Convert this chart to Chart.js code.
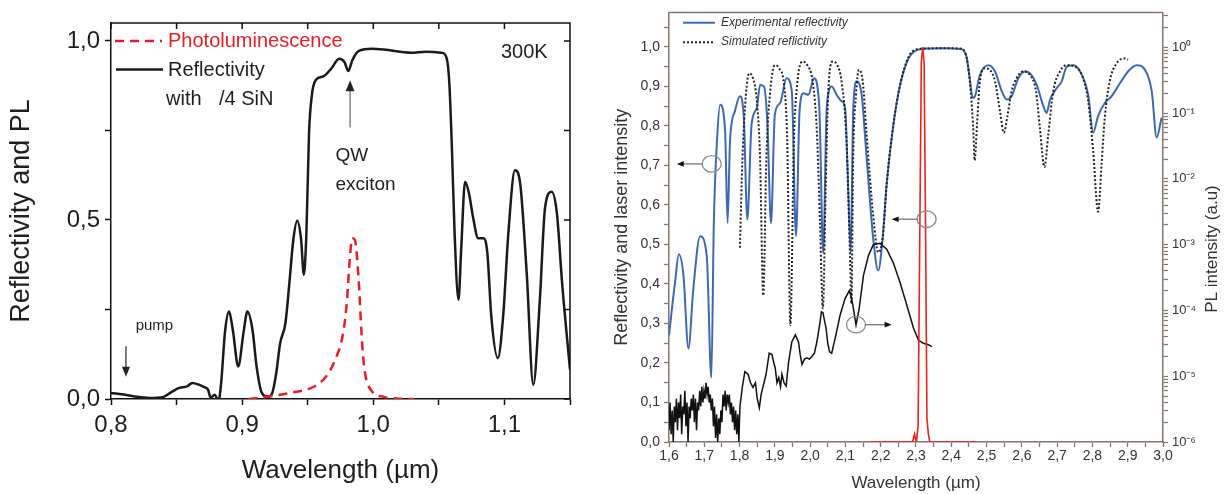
<!DOCTYPE html>
<html>
<head>
<meta charset="utf-8">
<script src="https://cdn.jsdelivr.net/npm/chart.js@4.4.0/dist/chart.umd.min.js"></script>
<style>
  html, body { margin: 0; padding: 0; background: #fff; }
  #wrap { position: relative; width: 1224px; height: 494px; }
  #leftBox { position: absolute; left: 0; top: 0; }
  #rightBox { position: absolute; left: 600px; top: 0; }
</style>
</head>
<body>
<div id="wrap">
  <div id="leftBox"><canvas id="leftChart" width="600" height="494"></canvas></div>
  <div id="rightBox"><canvas id="rightChart" width="624" height="494"></canvas></div>
</div>
<script>
// ---- left panel: reflectivity with λ/4 SiN and photoluminescence, 300K ----
const reflWl = [0.800, 0.811, 0.820, 0.829, 0.840, 0.846, 0.852, 0.858, 0.862, 0.867,
                0.871, 0.874, 0.876, 0.879, 0.882, 0.884, 0.887, 0.890, 0.893, 0.897,
                0.901, 0.904, 0.908, 0.911, 0.915, 0.920, 0.923, 0.926, 0.929, 0.933,
                0.936, 0.939, 0.942, 0.945, 0.947, 0.949, 0.951, 0.953, 0.956, 0.962,
                0.968, 0.974, 0.978, 0.981, 0.984, 0.989, 0.999, 1.008, 1.029, 1.040,
                1.052, 1.056, 1.058, 1.060, 1.062, 1.065, 1.067, 1.070, 1.073, 1.076,
                1.080, 1.084, 1.087, 1.090, 1.095, 1.099, 1.103, 1.108, 1.112, 1.117,
                1.122, 1.127, 1.131, 1.136, 1.140, 1.144, 1.150];
const reflVal = [0.017, 0.012, 0.006, 0.003, 0.006, 0.019, 0.031, 0.035, 0.045, 0.040,
                 0.033, 0.026, 0.003, 0.012, -0.005, 0.045, 0.190, 0.244, 0.190, 0.091,
                 0.184, 0.244, 0.190, 0.091, 0.017, 0.006, 0.017, 0.072, 0.156, 0.212,
                 0.323, 0.444, 0.498, 0.444, 0.347, 0.463, 0.742, 0.844, 0.890, 0.901,
                 0.923, 0.950, 0.941, 0.916, 0.946, 0.972, 0.978, 0.976, 0.967, 0.970,
                 0.967, 0.951, 0.881, 0.695, 0.463, 0.277, 0.416, 0.607, 0.574, 0.509,
                 0.449, 0.449, 0.407, 0.230, 0.114, 0.230, 0.463, 0.639, 0.602, 0.351,
                 0.040, 0.277, 0.535, 0.579, 0.519, 0.323, 0.082];
const plWl = [0.905, 0.920, 0.937, 0.955, 0.964, 0.971, 0.977, 0.980, 0.982, 0.984,
              0.986, 0.989, 0.991, 0.993, 0.998, 1.008, 1.020, 1.031];
const plVal = [0.000, 0.007, 0.017, 0.035, 0.063, 0.110, 0.184, 0.277, 0.388, 0.449,
               0.444, 0.323, 0.184, 0.091, 0.026, 0.006, 0.001, 0.000];
const leftXLabelled = [0.8, 0.9, 1.0, 1.1];
const leftYLabelled = [0.0, 0.5, 1.0];

// ---- right panel: experimental / simulated reflectivity, laser line, PL ----
const expWl = [1.600, 1.617, 1.628, 1.641, 1.655, 1.669, 1.688, 1.707, 1.720, 1.727,
               1.736, 1.745, 1.759, 1.766, 1.773, 1.787, 1.801, 1.812, 1.822, 1.834,
               1.849, 1.858, 1.869, 1.879, 1.889, 1.900, 1.915, 1.933, 1.948, 1.960,
               1.970, 1.981, 1.995, 2.011, 2.026, 2.037, 2.047, 2.061, 2.075, 2.089,
               2.099, 2.108, 2.115, 2.122, 2.132, 2.146, 2.160, 2.179, 2.193, 2.206,
               2.217, 2.236, 2.255, 2.279, 2.302, 2.330, 2.380, 2.425, 2.442, 2.451,
               2.461, 2.467, 2.481, 2.505, 2.524, 2.543, 2.557, 2.571, 2.590, 2.609,
               2.623, 2.642, 2.661, 2.670, 2.680, 2.699, 2.713, 2.727, 2.746, 2.765,
               2.788, 2.802, 2.816, 2.835, 2.854, 2.878, 2.901, 2.925, 2.949, 2.968,
               2.982, 2.996];
const expVal = [0.270, 0.404, 0.475, 0.421, 0.237, 0.388, 0.521, 0.471, 0.163, 0.554,
                0.763, 0.854, 0.788, 0.554, 0.763, 0.838, 0.875, 0.821, 0.563, 0.804,
                0.846, 0.904, 0.900, 0.804, 0.554, 0.829, 0.858, 0.921, 0.888, 0.521,
                0.838, 0.883, 0.879, 0.921, 0.846, 0.479, 0.846, 0.900, 0.879, 0.863,
                0.846, 0.638, 0.479, 0.838, 0.913, 0.879, 0.721, 0.513, 0.434, 0.521,
                0.654, 0.804, 0.904, 0.971, 0.992, 0.996, 0.997, 0.995, 0.979, 0.929,
                0.871, 0.875, 0.929, 0.954, 0.938, 0.888, 0.867, 0.875, 0.921, 0.938,
                0.933, 0.904, 0.850, 0.833, 0.867, 0.896, 0.913, 0.950, 0.954, 0.938,
                0.879, 0.783, 0.825, 0.858, 0.875, 0.908, 0.938, 0.954, 0.942, 0.888,
                0.771, 0.821];
const simWl = [1.801, 1.808, 1.818, 1.827, 1.838, 1.849, 1.858, 1.867, 1.876, 1.886,
               1.900, 1.912, 1.926, 1.935, 1.944, 1.954, 1.963, 1.978, 1.992, 2.007,
               2.019, 2.028, 2.036, 2.044, 2.051, 2.064, 2.077, 2.089, 2.103, 2.113,
               2.117, 2.122, 2.130, 2.138, 2.149, 2.160, 2.179, 2.193, 2.206, 2.217,
               2.236, 2.255, 2.279, 2.302, 2.330, 2.380, 2.425, 2.444, 2.455, 2.463,
               2.466, 2.473, 2.481, 2.495, 2.509, 2.524, 2.538, 2.549, 2.559, 2.571,
               2.585, 2.604, 2.623, 2.640, 2.651, 2.664, 2.675, 2.689, 2.708, 2.727,
               2.751, 2.770, 2.788, 2.802, 2.816, 2.826, 2.835, 2.849, 2.868, 2.892,
               2.901];
const simVal = [0.492, 0.713, 0.879, 0.933, 0.921, 0.863, 0.721, 0.371, 0.721, 0.879,
                0.954, 0.946, 0.904, 0.763, 0.296, 0.763, 0.904, 0.963, 0.954, 0.913,
                0.788, 0.554, 0.338, 0.638, 0.879, 0.963, 0.954, 0.913, 0.763, 0.471,
                0.350, 0.721, 0.879, 0.942, 0.913, 0.779, 0.571, 0.480, 0.521, 0.654,
                0.804, 0.904, 0.975, 0.994, 0.996, 0.997, 0.996, 0.971, 0.888, 0.779,
                0.713, 0.804, 0.913, 0.946, 0.942, 0.913, 0.838, 0.783, 0.825, 0.888,
                0.921, 0.938, 0.929, 0.888, 0.796, 0.696, 0.779, 0.888, 0.938, 0.954,
                0.950, 0.929, 0.863, 0.738, 0.583, 0.704, 0.821, 0.913, 0.958, 0.971,
                0.968];
const laserWl = [2.170, 2.290, 2.296, 2.301, 2.306, 2.311, 2.315, 2.319, 2.323, 2.327,
                 2.331, 2.335, 2.339, 2.470];
const laserVal = [0.000, 0.000, 0.020, 0.000, 0.040, 0.550, 0.960, 1.000, 0.960, 0.550,
                  0.060, 0.020, 0.000, 0.000];
// PL intensity, read as decades (log10 of a.u.) on the right-hand axis
const pumpWl = [1.600, 1.603, 1.606, 1.609, 1.612, 1.615, 1.618, 1.621, 1.624, 1.627,
                1.630, 1.633, 1.636, 1.639, 1.642, 1.645, 1.648, 1.651, 1.654, 1.657,
                1.660, 1.663, 1.666, 1.669, 1.672, 1.675, 1.678, 1.681, 1.684, 1.687,
                1.690, 1.693, 1.696, 1.699, 1.702, 1.705, 1.708, 1.711, 1.714, 1.717,
                1.720, 1.723, 1.726, 1.729, 1.732, 1.735, 1.738, 1.741, 1.744, 1.747,
                1.750, 1.753, 1.756, 1.759, 1.762, 1.765, 1.768, 1.771, 1.774, 1.777,
                1.780, 1.783, 1.786, 1.789, 1.792, 1.795, 1.798, 1.801, 1.808, 1.815,
                1.824, 1.831, 1.838, 1.845, 1.850, 1.856, 1.861, 1.866, 1.875, 1.884,
                1.892, 1.897, 1.901, 1.906, 1.911, 1.916, 1.920, 1.926, 1.932, 1.939,
                1.948, 1.958, 1.967, 1.972, 1.977, 1.984, 1.991, 1.998, 2.005, 2.012,
                2.019, 2.028, 2.032, 2.036, 2.045, 2.050, 2.055, 2.061, 2.071, 2.085,
                2.099, 2.111, 2.116, 2.121, 2.130, 2.139, 2.151, 2.165, 2.179, 2.198,
                2.217, 2.236, 2.255, 2.274, 2.293, 2.307, 2.321, 2.335, 2.345];
const pumpLog = [-5.82, -5.40, -5.88, -5.52, -6.00, -5.46, -5.70, -5.34, -5.82, -5.40,
                 -5.64, -5.28, -5.88, -5.46, -5.58, -5.22, -5.76, -5.40, -6.00, -5.46,
                 -5.64, -5.34, -5.52, -5.28, -5.70, -5.34, -5.82, -5.40, -5.52, -5.22,
                 -5.46, -5.16, -5.40, -5.22, -5.34, -5.10, -5.28, -5.16, -5.40, -5.28,
                 -5.52, -5.34, -5.76, -5.46, -5.94, -5.58, -6.00, -5.64, -5.88, -5.52,
                 -5.70, -5.28, -5.46, -5.22, -5.52, -5.28, -5.40, -5.28, -5.58, -5.40,
                 -5.70, -5.46, -5.82, -5.52, -5.88, -5.58, -6.00, -5.46, -5.16, -4.93,
                 -4.97, -5.10, -5.17, -5.10, -5.34, -5.48, -5.28, -5.17, -4.97, -4.65,
                 -4.67, -4.80, -4.87, -5.10, -5.02, -5.16, -4.97, -5.10, -5.15, -4.78,
                 -4.48, -4.37, -4.48, -4.68, -4.82, -4.74, -4.72, -4.74, -4.70, -4.65,
                 -4.48, -4.18, -4.02, -4.03, -4.27, -4.50, -4.63, -4.65, -4.42, -4.07,
                 -3.82, -3.70, -3.78, -3.92, -4.22, -3.97, -3.47, -3.17, -3.00, -2.98,
                 -3.07, -3.28, -3.58, -3.92, -4.27, -4.45, -4.50, -4.52, -4.55];
const rightXLabelled = [1.6, 1.7, 1.8, 1.9, 2.0, 2.1, 2.2, 2.3, 2.4, 2.5, 2.6, 2.7, 2.8, 2.9, 3.0];
const rightYLabelled = [0.0, 0.1, 0.2, 0.3, 0.4, 0.5, 0.6, 0.7, 0.8, 0.9, 1.0];
const plDecades = [-6, -5, -4, -3, -2, -1, 0];

Chart.defaults.font.family = "'Liberation Sans', Arial, sans-serif";

const pts = (xs, ys) => xs.map((x, i) => ({ x: x, y: ys[i] }));
const near = (v, list) => list.some(t => Math.abs(t - v) < 1e-6);
const comma = v => v.toFixed(1).replace('.', ',');
const sup = n => String(n).split('').map(c => '⁻⁰¹²³⁴⁵⁶⁷⁸⁹'['-0123456789'.indexOf(c)]).join('');

function arrow(ctx, x1, y1, x2, y2, head, lineColor, headColor) {
  const a = Math.atan2(y2 - y1, x2 - x1);
  ctx.strokeStyle = lineColor;
  ctx.beginPath();
  ctx.moveTo(x1, y1);
  ctx.lineTo(x2 - Math.cos(a) * head * 0.8, y2 - Math.sin(a) * head * 0.8);
  ctx.stroke();
  ctx.fillStyle = headColor;
  ctx.beginPath();
  ctx.moveTo(x2, y2);
  ctx.lineTo(x2 - head * Math.cos(a) + head * 0.4 * Math.sin(a), y2 - head * Math.sin(a) - head * 0.4 * Math.cos(a));
  ctx.lineTo(x2 - head * Math.cos(a) - head * 0.4 * Math.sin(a), y2 - head * Math.sin(a) + head * 0.4 * Math.cos(a));
  ctx.closePath();
  ctx.fill();
}

// box, mirrored inward ticks, legend and notes for the left panel
const leftExtras = {
  id: 'leftExtras',
  afterDraw(chart) {
    const { ctx, chartArea: a, scales: { x, y } } = chart;
    ctx.save();
    ctx.strokeStyle = '#111';
    ctx.lineWidth = 1.5;
    ctx.beginPath();
    ctx.moveTo(a.left, a.top);
    ctx.lineTo(a.right, a.top);
    ctx.lineTo(a.right, a.bottom);
    x.ticks.forEach(t => {
      const p = x.getPixelForValue(t.value);
      ctx.moveTo(p, a.top); ctx.lineTo(p, a.top + 6);
    });
    y.ticks.forEach(t => {
      const p = y.getPixelForValue(t.value);
      ctx.moveTo(a.right, p); ctx.lineTo(a.right - 6, p);
    });
    ctx.stroke();

    // legend
    const ds = chart.data.datasets;
    ctx.lineWidth = 2.5;
    ctx.strokeStyle = ds[0].borderColor;
    ctx.setLineDash(ds[0].borderDash);
    ctx.beginPath(); ctx.moveTo(a.left + 4, 41); ctx.lineTo(a.left + 51, 41); ctx.stroke();
    ctx.setLineDash([]);
    ctx.strokeStyle = ds[1].borderColor;
    ctx.beginPath(); ctx.moveTo(a.left + 5, 69.5); ctx.lineTo(a.left + 52, 69.5); ctx.stroke();
    ctx.font = "20px 'Liberation Sans', Arial, sans-serif";
    ctx.textBaseline = 'middle';
    ctx.textAlign = 'left';
    ctx.fillStyle = ds[0].borderColor;
    ctx.fillText(ds[0].label, 168, 41);
    ctx.fillStyle = '#1e1e1e';
    ctx.fillText(ds[1].label, 168, 70);
    ctx.fillText('with', 166, 99);
    ctx.fillText('/4 SiN', 219, 99);

    // notes
    ctx.fillText('300K', 501, 52);
    ctx.font = "19px 'Liberation Sans', Arial, sans-serif";
    const qx = x.getPixelForValue(0.9711);
    ctx.fillText('QW', qx, y.getPixelForValue(0.678));
    ctx.fillText('exciton', qx, y.getPixelForValue(0.597));
    ctx.font = "15px 'Liberation Sans', Arial, sans-serif";
    ctx.fillText('pump', x.getPixelForValue(0.8188), y.getPixelForValue(0.205));
    ctx.lineWidth = 1.2;
    const px = x.getPixelForValue(0.8114);
    arrow(ctx, px, y.getPixelForValue(0.147), px, y.getPixelForValue(0.062), 10, '#222', '#222');
    const ex = x.getPixelForValue(0.9823);
    arrow(ctx, ex, y.getPixelForValue(0.758), ex, y.getPixelForValue(0.890), 11, '#666', '#222');
    ctx.restore();
  }
};

new Chart(document.getElementById('leftChart'), {
  type: 'line',
  data: {
    datasets: [
      {
        label: 'Photoluminescence',
        data: pts(plWl, plVal),
        borderColor: '#ec1c24',
        borderWidth: 2.5,
        borderDash: [9, 6],
        pointRadius: 0,
        cubicInterpolationMode: 'monotone'
      },
      {
        label: 'Reflectivity',
        data: pts(reflWl, reflVal),
        borderColor: '#1a1a1a',
        borderWidth: 2.5,
        pointRadius: 0,
        cubicInterpolationMode: 'monotone'
      }
    ]
  },
  options: {
    responsive: false,
    animation: false,
    layout: { padding: { top: 23, right: 30, left: 0, bottom: 0 } },
    plugins: { legend: { display: false }, tooltip: { enabled: false } },
    scales: {
      x: {
        type: 'linear',
        min: 0.8,
        max: 1.15,
        ticks: {
          stepSize: 0.05,
          autoSkip: false,
          maxRotation: 0,
          padding: 6,
          color: '#1e1e1e',
          font: { size: 24 },
          callback: v => near(v, leftXLabelled) ? comma(v) : ''
        },
        grid: { drawOnChartArea: false, tickLength: 6, tickColor: '#111', tickWidth: 1.5 },
        border: { color: '#111', width: 1.5 },
        title: { display: true, text: 'Wavelength (µm)', color: '#1e1e1e', font: { size: 26 }, padding: { bottom: 8 } },
        afterFit: s => { s.height = 95; }
      },
      y: {
        min: 0,
        max: 1.05,
        ticks: {
          stepSize: 0.25,
          includeBounds: false,
          padding: 5,
          color: '#1e1e1e',
          font: { size: 24 },
          callback: v => near(v, leftYLabelled) ? comma(v) : ''
        },
        grid: { drawOnChartArea: false, tickLength: 6, tickColor: '#111', tickWidth: 1.5 },
        border: { color: '#111', width: 1.5 },
        title: { display: true, text: 'Reflectivity and PL', color: '#1e1e1e', font: { size: 27 }, padding: { top: 5 } },
        afterFit: s => { s.width = 111; }
      }
    }
  },
  plugins: [leftExtras]
});

// top border, legend, circled-arrow markers and right title for the right panel
const rightExtras = {
  id: 'rightExtras',
  afterDraw(chart) {
    const { ctx, chartArea: a, scales: { x, y } } = chart;
    const ds = chart.data.datasets;
    ctx.save();
    ctx.strokeStyle = '#85766d';
    ctx.lineWidth = 1.5;
    ctx.beginPath(); ctx.moveTo(a.left, a.top); ctx.lineTo(a.right, a.top); ctx.stroke();

    // legend
    ctx.lineWidth = 2;
    ctx.strokeStyle = ds[0].borderColor;
    ctx.beginPath(); ctx.moveTo(83, 22.7); ctx.lineTo(115, 22.7); ctx.stroke();
    ctx.strokeStyle = ds[1].borderColor;
    ctx.setLineDash(ds[1].borderDash);
    ctx.beginPath(); ctx.moveTo(83, 42.3); ctx.lineTo(115, 42.3); ctx.stroke();
    ctx.setLineDash([]);
    ctx.font = "italic 12px 'Liberation Sans', Arial, sans-serif";
    ctx.fillStyle = '#333';
    ctx.textBaseline = 'middle';
    ctx.fillText(ds[0].label, 121, 22.5);
    ctx.fillText(ds[1].label, 121, 42);

    // circled markers with arrows toward the axis used
    ctx.lineWidth = 1.3;
    const marks = [
      { cx: 1.721, cy: 0.704, from: 1.695, to: 1.622 },
      { cx: 2.330, cy: 0.564, from: 2.305, to: 2.231 },
      { cx: 2.130, cy: 0.297, from: 2.155, to: 2.231 }
    ];
    marks.forEach(m => {
      const cy = y.getPixelForValue(m.cy);
      ctx.strokeStyle = '#8a8a8a';
      ctx.beginPath();
      ctx.ellipse(x.getPixelForValue(m.cx), cy, 9.5, 8.3, 0, 0, Math.PI * 2);
      ctx.stroke();
      arrow(ctx, x.getPixelForValue(m.from), cy, x.getPixelForValue(m.to), cy, 7, '#777', '#111');
    });

    // right-hand title
    ctx.translate(612, 249);
    ctx.rotate(-Math.PI / 2);
    ctx.font = "17px 'Liberation Sans', Arial, sans-serif";
    ctx.textAlign = 'center';
    ctx.fillStyle = '#333';
    ctx.fillText('PL intensity (a.u)', 0, 0);
    ctx.restore();
  }
};

new Chart(document.getElementById('rightChart'), {
  type: 'line',
  data: {
    datasets: [
      {
        label: 'Experimental reflectivity',
        data: pts(expWl, expVal),
        borderColor: '#3f68b4',
        borderWidth: 2,
        pointRadius: 0,
        cubicInterpolationMode: 'monotone',
        yAxisID: 'y',
        order: 3
      },
      {
        label: 'Simulated reflictivity',
        data: pts(simWl, simVal),
        borderColor: '#222',
        borderWidth: 2,
        borderDash: [2, 2],
        pointRadius: 0,
        cubicInterpolationMode: 'monotone',
        yAxisID: 'y',
        order: 2
      },
      {
        label: 'Laser',
        data: pts(laserWl, laserVal),
        borderColor: '#e8231d',
        borderWidth: 1.6,
        pointRadius: 0,
        yAxisID: 'y',
        order: 0
      },
      {
        label: 'PL',
        data: pts(pumpWl, pumpLog.map(e => Math.pow(10, e))),
        borderColor: '#111',
        borderWidth: 1.5,
        pointRadius: 0,
        yAxisID: 'y2',
        order: 1
      }
    ]
  },
  options: {
    responsive: false,
    animation: false,
    layout: { padding: { top: 7, right: 0, left: 0, bottom: 0 } },
    plugins: { legend: { display: false }, tooltip: { enabled: false } },
    scales: {
      x: {
        type: 'linear',
        min: 1.6,
        max: 3.0,
        ticks: {
          stepSize: 0.05,
          autoSkip: false,
          maxRotation: 0,
          padding: 1,
          color: '#333',
          font: { size: 14 },
          callback: v => near(v, rightXLabelled) ? comma(v) : ''
        },
        grid: { drawOnChartArea: false, tickLength: 5, tickColor: '#85766d', tickWidth: 1.3 },
        border: { color: '#85766d', width: 1.5 },
        title: { display: true, text: 'Wavelength (µm)', color: '#333', font: { size: 17 }, padding: { bottom: 0 } },
        afterFit: s => { s.height = 52; }
      },
      y: {
        position: 'left',
        min: 0,
        max: 1.0875,
        ticks: {
          stepSize: 0.05,
          includeBounds: false,
          autoSkip: false,
          padding: 4,
          color: '#333',
          font: { size: 14 },
          callback: v => near(v, rightYLabelled) ? comma(v) : ''
        },
        grid: { drawOnChartArea: false, tickLength: 5, tickColor: '#85766d', tickWidth: 1.3 },
        border: { color: '#85766d', width: 1.5 },
        title: { display: true, text: 'Reflectivity and laser intensity', color: '#333', font: { size: 18 }, padding: { top: 11 } },
        afterFit: s => { s.width = 69; }
      },
      y2: {
        type: 'logarithmic',
        position: 'right',
        min: 1e-6,
        max: 3.4,
        afterBuildTicks: s => {
          s.ticks = s.ticks.filter(t => {
            const m = t.value / Math.pow(10, Math.floor(Math.log10(t.value) + 1e-9));
            return Math.abs(m - Math.round(m)) < 1e-6;
          });
        },
        ticks: {
          autoSkip: false,
          padding: 4,
          color: '#333',
          font: { size: 13 },
          callback: v => {
            const e = Math.round(Math.log10(v));
            return Math.abs(Math.log10(v) - e) < 1e-6 && plDecades.includes(e) ? '10' + sup(e) : '';
          }
        },
        grid: { drawOnChartArea: false, tickLength: 5, tickColor: '#85766d', tickWidth: 1.2 },
        border: { color: '#85766d', width: 1.5 },
        afterFit: s => { s.width = 61; }
      }
    }
  },
  plugins: [rightExtras]
});
</script>
</body>
</html>
